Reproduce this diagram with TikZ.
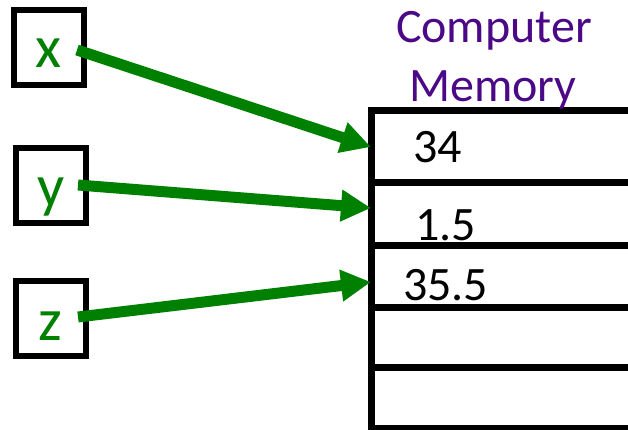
\documentclass[tikz,border=0pt]{standalone}
\usepackage{fontspec}
\setmainfont{Carlito}
\usetikzlibrary{arrows.meta}
\definecolor{vargreen}{RGB}{0,128,0}
\definecolor{memviolet}{RGB}{75,8,135}

\begin{document}
\begin{tikzpicture}[x=1pt,y=-1pt,
  varbox/.style={draw=black,line width=6pt,minimum width=70pt,minimum height=75pt,inner sep=0pt,outer sep=0pt},
  vartext/.style={anchor=base,inner sep=0pt,text=vargreen,font=\fontsize{60}{60}\selectfont},
  cell/.style={draw=black,line width=7pt,anchor=north west,minimum width=400pt,inner sep=0pt,outer sep=0pt},
  value/.style={anchor=base west,inner sep=0pt,font=\fontsize{48}{48}\selectfont},
  heading/.style={anchor=base,inner sep=0pt,text=memviolet,font=\fontsize{48}{48}\selectfont},
  pointer/.style={draw=vargreen,line width=11pt,-{Triangle[length=30pt,width=30pt]}}]
\useasboundingbox (0,0) rectangle (628,430);
\clip (0,0) rectangle (628,430);

% variable boxes
\node[varbox] (xbox) at (49,47.5) {};
\node[vartext] (xlab) at (48,68) {x};
\node[varbox] (ybox) at (51,185.5) {};
\node[vartext] (ylab) at (51,207) {y};
\node[varbox] (zbox) at (51,318.5) {};
\node[vartext] (zlab) at (50,340) {z};

% memory cells
\node[cell,minimum height=72pt] (c1) at (371,111) {};
\node[cell,minimum height=62pt] (c2) at (371,183) {};
\node[cell,minimum height=62pt] (c3) at (371,245) {};
\node[cell,minimum height=60pt] (c4) at (371,307) {};
\node[cell,minimum height=61pt] (c5) at (371,367) {};

% heading
\node[heading] (head1) at (494,43) {Computer};
\node[heading] (head2) at (493,102) {Memory};

% stored values
\node[value] (v1) at (413,163) {34};
\node[value] (v2) at (415,240) {1.5};
\node[value] (v3) at (403,300) {35.5};

% pointers
\coordinate (xs) at (77,50);
\coordinate (ys) at (78,185);
\coordinate (zs) at (78,317);
\draw[pointer] (xs) -- (c1.west);
\draw[pointer] (ys) -- ([yshift=6pt]c2.west);
\draw[pointer] (zs) -- ([yshift=-6pt]c3.west);
\end{tikzpicture}
\end{document}
